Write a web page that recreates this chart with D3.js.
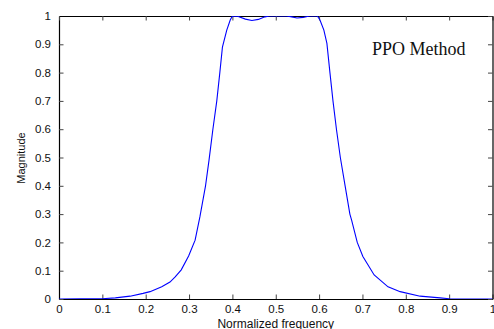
<!DOCTYPE html>
<html>
<head>
<meta charset="utf-8">
<script src="https://cdn.jsdelivr.net/npm/d3@7"></script>
<style>
  body { margin: 0; background: #fff; }
  svg { display: block; }
  .tick text { font-family: "Liberation Sans", Arial, sans-serif; font-size: 11.5px; fill: #111; }
</style>
</head>
<body>
<div id="chart"></div>
<script>
// normalized frequency vs magnitude
const freq = [0, 0.05, 0.10, 0.13, 0.164, 0.194, 0.21, 0.237, 0.256, 0.268, 0.282, 0.299, 0.314,
  0.325, 0.338, 0.346, 0.355, 0.364, 0.371, 0.377, 0.387, 0.395, 0.400, 0.412, 0.430, 0.445,
  0.460, 0.475, 0.485, 0.525, 0.537, 0.549, 0.563, 0.578, 0.596, 0.602, 0.611, 0.618, 0.625,
  0.632, 0.640, 0.649, 0.660, 0.671, 0.675, 0.688, 0.701, 0.727, 0.759, 0.787, 0.833, 0.879,
  0.90, 1.0];
const magnitude = [0, 0.0005, 0.001, 0.004, 0.010, 0.020, 0.026, 0.043, 0.060, 0.078, 0.103, 0.152, 0.208,
  0.290, 0.400, 0.490, 0.600, 0.700, 0.800, 0.890, 0.950, 0.986, 1.000, 0.999, 0.989, 0.984,
  0.988, 0.997, 1.000, 1.000, 0.997, 0.993, 0.995, 1.000, 1.000, 0.986, 0.950, 0.903, 0.800,
  0.700, 0.600, 0.500, 0.400, 0.300, 0.279, 0.200, 0.150, 0.085, 0.043, 0.026, 0.010, 0.004,
  0.001, 0];
const xTicks = [0, 0.1, 0.2, 0.3, 0.4, 0.5, 0.6, 0.7, 0.8, 0.9, 1];
const yTicks = [0, 0.1, 0.2, 0.3, 0.4, 0.5, 0.6, 0.7, 0.8, 0.9, 1];

const W = 494, H = 329;
const margin = { top: 16, right: 1.5, bottom: 30, left: 59 };
const width = W - margin.left - margin.right;
const height = H - margin.top - margin.bottom;

const svg = d3.select("#chart").append("svg")
  .attr("width", W)
  .attr("height", H);

const g = svg.append("g")
  .attr("transform", `translate(${margin.left},${margin.top})`);

const x = d3.scaleLinear().domain([0, 1]).range([0, width]);
const y = d3.scaleLinear().domain([0, 1]).range([height, 0]);

const fmt = d => d === 0 || d === 1 ? String(d) : d3.format(".1f")(d);

// bottom / left axes with inward ticks
g.append("g")
  .attr("transform", `translate(0,${height})`)
  .call(d3.axisBottom(x).tickValues(xTicks).tickFormat(fmt).tickSizeInner(-4.5).tickSizeOuter(0).tickPadding(6));
g.append("g")
  .call(d3.axisLeft(y).tickValues(yTicks).tickFormat(fmt).tickSizeInner(-4.5).tickSizeOuter(0).tickPadding(8));

// top / right axes, ticks only
g.append("g")
  .call(d3.axisTop(x).tickValues(xTicks).tickFormat("").tickSizeInner(-4.5).tickSizeOuter(0));
g.append("g")
  .attr("transform", `translate(${width},0)`)
  .call(d3.axisRight(y).tickValues(yTicks).tickFormat("").tickSizeInner(-4.5).tickSizeOuter(0));

g.selectAll(".domain").attr("stroke", "#000").attr("stroke-width", 1.2);
g.selectAll(".tick line").attr("stroke", "#444");

g.append("clipPath").attr("id", "clip")
  .append("rect").attr("width", width).attr("height", height);

const line = d3.line()
  .x((d, i) => x(freq[i]))
  .y(d => y(d));

g.append("path")
  .datum(magnitude)
  .attr("clip-path", "url(#clip)")
  .attr("fill", "none")
  .attr("stroke", "#0000ff")
  .attr("stroke-width", 1.1)
  .attr("d", line);

g.append("text")
  .attr("x", 313)
  .attr("y", 39)
  .attr("font-family", "'Liberation Serif', 'Times New Roman', serif")
  .attr("font-size", 18)
  .attr("fill", "#111")
  .text("PPO Method");

svg.append("text")
  .attr("x", margin.left + width / 2)
  .attr("y", 327.5)
  .attr("text-anchor", "middle")
  .attr("font-family", "'Liberation Sans', Arial, sans-serif")
  .attr("font-size", 12)
  .attr("fill", "#111")
  .text("Normalized frequency");

svg.append("text")
  .attr("transform", "translate(25,158) rotate(-90)")
  .attr("text-anchor", "middle")
  .attr("font-family", "'Liberation Sans', Arial, sans-serif")
  .attr("font-size", 11)
  .attr("fill", "#111")
  .text("Magnitude");
</script>
</body>
</html>
